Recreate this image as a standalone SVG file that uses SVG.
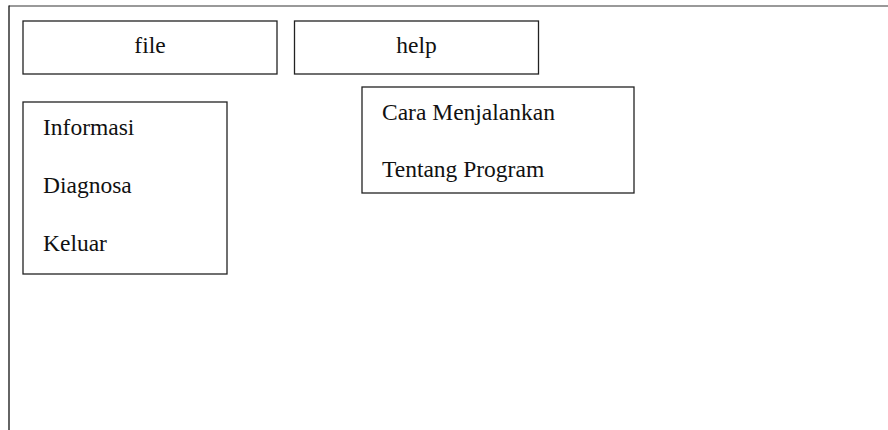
<svg xmlns="http://www.w3.org/2000/svg" width="888" height="430" viewBox="0 0 888 430">
<style>
.box{fill:#fff;stroke:#222;stroke-width:1.3}
.t{font-family:"Liberation Serif","Times New Roman",serif;font-size:23.5px;fill:#111}
</style>
<rect width="888" height="430" fill="#fff"/>
<g id="frame">
<line x1="9" y1="6" x2="888" y2="6" stroke="#777" stroke-width="1.6"/>
<line x1="9" y1="5.5" x2="9" y2="430" stroke="#111" stroke-width="1.3"/>
</g>
<g id="file">
<rect class="box" x="23" y="21" width="254" height="53"/>
<text class="t" x="150" y="53" text-anchor="middle">file</text>
</g>
<g id="help">
<rect class="box" x="294.5" y="21" width="244" height="53"/>
<text class="t" x="416.5" y="53" text-anchor="middle">help</text>
</g>
<g id="file-menu">
<rect class="box" x="23" y="102" width="204" height="172"/>
<text class="t" x="43" y="135">Informasi</text>
<text class="t" x="43" y="193">Diagnosa</text>
<text class="t" x="43" y="251">Keluar</text>
</g>
<g id="help-menu">
<rect class="box" x="362" y="87" width="272" height="106"/>
<text class="t" x="382" y="119.5">Cara Menjalankan</text>
<text class="t" x="382" y="177">Tentang Program</text>
</g>
<g id="connectors"/>
</svg>
